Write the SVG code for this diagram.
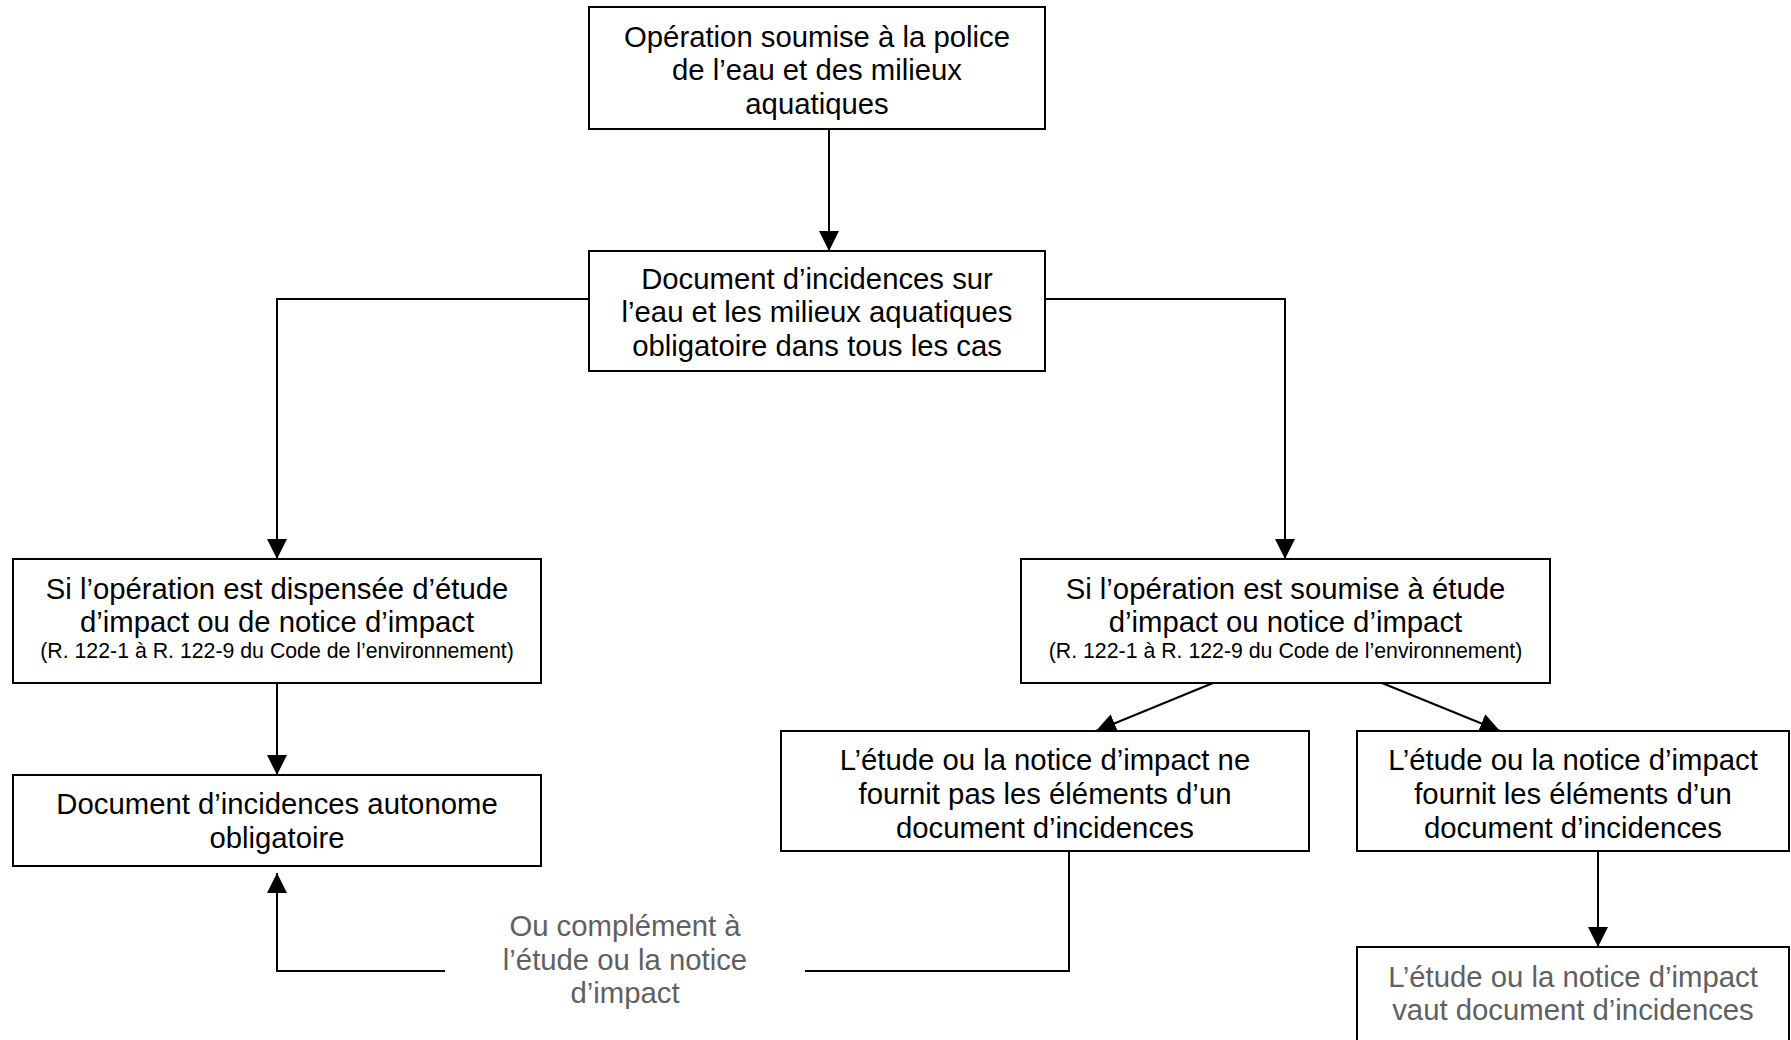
<svg xmlns="http://www.w3.org/2000/svg" width="1791" height="1040" viewBox="0 0 1791 1040">
<style>
.box{fill:#ffffff;stroke:#000000;stroke-width:2}
.t{font-family:"Liberation Sans",Arial,sans-serif;font-size:29.3px;fill:#000000;text-anchor:middle}
.s{font-size:21.3px}
.g{fill:#606060}
.c{fill:none;stroke:#000000;stroke-width:2}
</style>
<defs>
<marker id="ah" markerUnits="userSpaceOnUse" markerWidth="20" markerHeight="20" refX="20" refY="10" orient="auto" viewBox="0 0 20 20">
<path d="M0,0 L20,10 L0,20 z" fill="#000000"/>
</marker>
</defs>
<rect width="1791" height="1040" fill="#ffffff"/>
<g id="connectors">
<path class="c" d="M829,130 V251" marker-end="url(#ah)"/>
<path class="c" d="M589,299 H277 V559" marker-end="url(#ah)"/>
<path class="c" d="M1045,299 H1285 V559" marker-end="url(#ah)"/>
<path class="c" d="M277,683 V775" marker-end="url(#ah)"/>
<path class="c" d="M1213,683 L1096,731" marker-end="url(#ah)"/>
<path class="c" d="M1382,683 L1500,731" marker-end="url(#ah)"/>
<path class="c" d="M1069,851 V971 H805"/>
<path class="c" d="M445,971 H277 V873" marker-end="url(#ah)"/>
<path class="c" d="M1598,851 V947" marker-end="url(#ah)"/>
<text class="t g" x="625" y="936">Ou complément à</text>
<text class="t g" x="625" y="969.5">l’étude ou la notice</text>
<text class="t g" x="625" y="1003">d’impact</text>
</g>
<g id="n1">
<rect class="box" x="589" y="7" width="456" height="122"/>
<text class="t" x="817" y="46.5">Opération soumise à la police</text>
<text class="t" x="817" y="80">de l’eau et des milieux</text>
<text class="t" x="817" y="113.5">aquatiques</text>
</g>
<g id="n2">
<rect class="box" x="589" y="251" width="456" height="120"/>
<text class="t" x="817" y="288.5">Document d’incidences sur</text>
<text class="t" x="817" y="322">l’eau et les milieux aquatiques</text>
<text class="t" x="817" y="355.5">obligatoire dans tous les cas</text>
</g>
<g id="n3">
<rect class="box" x="13" y="559" width="528" height="124"/>
<text class="t" x="277" y="599">Si l’opération est dispensée d’étude</text>
<text class="t" x="277" y="632">d’impact ou de notice d’impact</text>
<text class="t s" x="277" y="657.5">(R. 122-1 à R. 122-9 du Code de l’environnement)</text>
</g>
<g id="n4">
<rect class="box" x="1021" y="559" width="529" height="124"/>
<text class="t" x="1285.5" y="599">Si l’opération est soumise à étude</text>
<text class="t" x="1285.5" y="632">d’impact ou notice d’impact</text>
<text class="t s" x="1285.5" y="657.5">(R. 122-1 à R. 122-9 du Code de l’environnement)</text>
</g>
<g id="n5">
<rect class="box" x="13" y="775" width="528" height="91"/>
<text class="t" x="277" y="814">Document d’incidences autonome</text>
<text class="t" x="277" y="848">obligatoire</text>
</g>
<g id="n6">
<rect class="box" x="781" y="731" width="528" height="120"/>
<text class="t" x="1045" y="770">L’étude ou la notice d’impact ne</text>
<text class="t" x="1045" y="804">fournit pas les éléments d’un</text>
<text class="t" x="1045" y="837.5">document d’incidences</text>
</g>
<g id="n7">
<rect class="box" x="1357" y="731" width="432" height="120"/>
<text class="t" x="1573" y="770">L’étude ou la notice d’impact</text>
<text class="t" x="1573" y="804">fournit les éléments d’un</text>
<text class="t" x="1573" y="837.5">document d’incidences</text>
</g>
<g id="n8">
<rect class="box" x="1357" y="947" width="432" height="120"/>
<text class="t g" x="1573" y="987">L’étude ou la notice d’impact</text>
<text class="t g" x="1573" y="1020">vaut document d’incidences</text>
</g>
</svg>
